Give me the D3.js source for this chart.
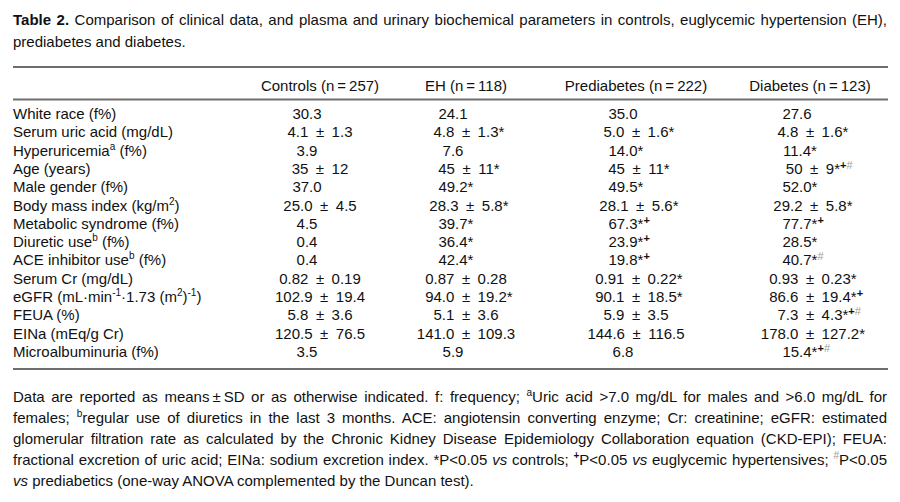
<!DOCTYPE html>
<html>
<head>
<meta charset="utf-8">
<script src="https://cdn.jsdelivr.net/npm/d3@7"></script>
<style>
  html, body { margin: 0; padding: 0; background: #fff; }
  svg text { font-family: "Liberation Sans", Arial, sans-serif; fill: #111; white-space: pre; }
</style>
</head>
<body>
<div id="chart"></div>
<script>
(function () {
  // ─── Table 2: clinical data by group ───

  const titleLines = [
    '{b:Table 2.} Comparison of clinical data, and plasma and urinary biochemical parameters in controls, euglycemic hypertension (EH),',
    'prediabetes and diabetes.'
  ];

  const groups = ['Controls (n\u2009=\u2009257)', 'EH (n\u2009=\u2009118)', 'Prediabetes (n\u2009=\u2009222)', 'Diabetes (n\u2009=\u2009123)'];

  const rowLabels = [
    'White race (f%)',
    'Serum uric acid (mg/dL)',
    'Hyperuricemia{s:a} (f%)',
    'Age (years)',
    'Male gender (f%)',
    'Body mass index (kg/m{s:2})',
    'Metabolic syndrome (f%)',
    'Diuretic use{s:b} (f%)',
    'ACE inhibitor use{s:b} (f%)',
    'Serum Cr (mg/dL)',
    'eGFR (mL\u00b7min{s:-1}\u00b71.73 (m{s:2}){s:-1})',
    'FEUA (%)',
    'EINa (mEq/g Cr)',
    'Microalbuminuria (f%)'
  ];

  const controls = ['30.3', '4.1 ± 1.3', '3.9', '35 ± 12', '37.0', '25.0 ± 4.5', '4.5', '0.4', '0.4',
    '0.82 ± 0.19', '102.9 ± 19.4', '5.8 ± 3.6', '120.5 ± 76.5', '3.5'];
  const eh = ['24.1', '4.8 ± 1.3*', '7.6', '45 ± 11*', '49.2*', '28.3 ± 5.8*', '39.7*', '36.4*', '42.4*',
    '0.87 ± 0.28', '94.0 ± 19.2*', '5.1 ± 3.6', '141.0 ± 109.3', '5.9'];
  const prediabetes = ['35.0', '5.0 ± 1.6*', '14.0*', '45 ± 11*', '49.5*', '28.1 ± 5.6*', '67.3*+', '23.9*+', '19.8*+',
    '0.91 ± 0.22*', '90.1 ± 18.5*', '5.9 ± 3.5', '144.6 ± 116.5', '6.8'];
  const diabetes = ['27.6', '4.8 ± 1.6*', '11.4*', '50 ± 9*+#', '52.0*', '29.2 ± 5.8*', '77.7*+', '28.5*', '40.7*#',
    '0.93 ± 0.23*', '86.6 ± 19.4*+', '7.3 ± 4.3*+#', '178.0 ± 127.2*', '15.4*+#'];

  const footLines = [
    'Data are reported as means\u2009±\u2009SD or as otherwise indicated. f: frequency; {s:a}Uric acid >7.0 mg/dL for males and >6.0 mg/dL for',
    'females; {s:b}regular use of diuretics in the last 3 months. ACE: angiotensin converting enzyme; Cr: creatinine; eGFR: estimated',
    'glomerular filtration rate as calculated by the Chronic Kidney Disease Epidemiology Collaboration equation (CKD-EPI); FEUA:',
    'fractional excretion of uric acid; EINa: sodium excretion index. *P<0.05 {i:vs} controls; {sb:+}P<0.05 {i:vs} euglycemic hypertensives; {sg:#}P<0.05',
    '{i:vs} prediabetics (one-way ANOVA complemented by the Duncan test).'
  ];

  const columns = [controls, eh, prediabetes, diabetes];

  const W = 900, H = 502;
  const left = 13, right = 887;
  const fs = 15;

  const svg = d3.select('#chart').append('svg')
    .attr('width', W).attr('height', H);

  // rows and columns
  const y = d3.scalePoint().domain(rowLabels).range([119, 357]);
  const x = d3.scaleOrdinal().domain(groups).range([320, 466, 636, 810]);

  // split '{tag:text}' markup into tspans
  function rich(textSel, str) {
    const re = /\{(\w+):([^}]*)\}/g;
    let last = 0, m, shifted = false;
    const parts = [];
    while ((m = re.exec(str)) !== null) {
      if (m.index > last) parts.push({ tag: '', t: str.slice(last, m.index) });
      parts.push({ tag: m[1], t: m[2] });
      last = re.lastIndex;
    }
    if (last < str.length) parts.push({ tag: '', t: str.slice(last) });
    parts.forEach(p => {
      const ts = textSel.append('tspan').text(p.t);
      const sup = p.tag[0] === 's';
      if (sup && !shifted) { ts.attr('dy', -6); shifted = true; }
      else if (!sup && shifted) { ts.attr('dy', 6); shifted = false; }
      if (sup) ts.attr('font-size', 10);
      if (p.tag === 'b' || p.tag === 'sb') ts.attr('font-weight', 'bold');
      if (p.tag === 'i') ts.attr('font-style', 'italic');
      if (p.tag === 'sg') ts.style('fill', '#999');
    });
    return textSel;
  }

  function justify(textSel, width) {
    const node = textSel.node();
    const natural = node.getComputedTextLength();
    const spaces = (textSel.text().match(/ /g) || []).length;
    if (!spaces) return;
    const ws = (width - natural) / spaces;
    textSel.style('word-spacing', ws + 'px');
    const after = node.getComputedTextLength();
    if (Math.abs(after - width) > 2) {
      textSel.style('word-spacing', null)
        .attr('textLength', width).attr('lengthAdjust', 'spacingAndGlyphs');
    }
  }

  // title
  titleLines.forEach((line, i) => {
    const t = svg.append('text').attr('x', left).attr('y', 25 + i * 22).attr('font-size', fs);
    rich(t, line);
    if (i < titleLines.length - 1) justify(t, right - left);
  });

  // rules
  [67, 99.5, 369].forEach(ry => {
    svg.append('line')
      .attr('x1', left).attr('x2', right + 1)
      .attr('y1', ry).attr('y2', ry)
      .attr('stroke', '#6e6e6e').attr('stroke-width', 2);
  });

  // header
  svg.selectAll('text.head')
    .data(groups)
    .enter().append('text')
    .attr('class', 'head')
    .attr('x', d => x(d))
    .attr('y', 91)
    .attr('text-anchor', 'middle')
    .attr('font-size', fs)
    .text(d => d);

  // row labels
  rowLabels.forEach(lab => {
    const t = svg.append('text').attr('x', left).attr('y', y(lab)).attr('font-size', fs);
    rich(t, lab);
  });

  // cells
  columns.forEach((col, ci) => {
    const cx = x(groups[ci]);
    col.forEach((val, ri) => {
      const m = val.match(/^(.*?)([*+#]*)$/);
      const core = m[1].trim();
      const marks = m[2];
      const isSd = core.indexOf('±') >= 0;
      const coreText = isSd ? core.split('±').map(s => s.trim()).join('\u2002±\u2002') : core;
      const t = svg.append('text')
        .attr('y', y(rowLabels[ri]))
        .attr('font-size', fs);
      t.append('tspan').text(coreText);
      let up = false;
      marks.split('').forEach(mk => {
        const ts = t.append('tspan').text(mk);
        if (mk === '*') {
          if (up) { ts.attr('dy', 5); up = false; }
        } else {
          if (!up) { ts.attr('dy', -5); up = true; }
          ts.attr('font-size', 11);
          if (mk === '+') ts.attr('font-weight', 'bold');
          if (mk === '#') ts.style('fill', '#9a9a9a');
        }
      });
      const w = t.node().getSubStringLength(0, coreText.length);
      const anchor = isSd ? cx : cx - 13;
      t.attr('x', anchor - w / 2);
    });
  });

  // footnote
  footLines.forEach((line, i) => {
    const t = svg.append('text').attr('x', left).attr('y', 402 + i * 21).attr('font-size', fs);
    rich(t, line);
    if (i < footLines.length - 1) justify(t, right - left);
  });
})();
</script>
</body>
</html>
